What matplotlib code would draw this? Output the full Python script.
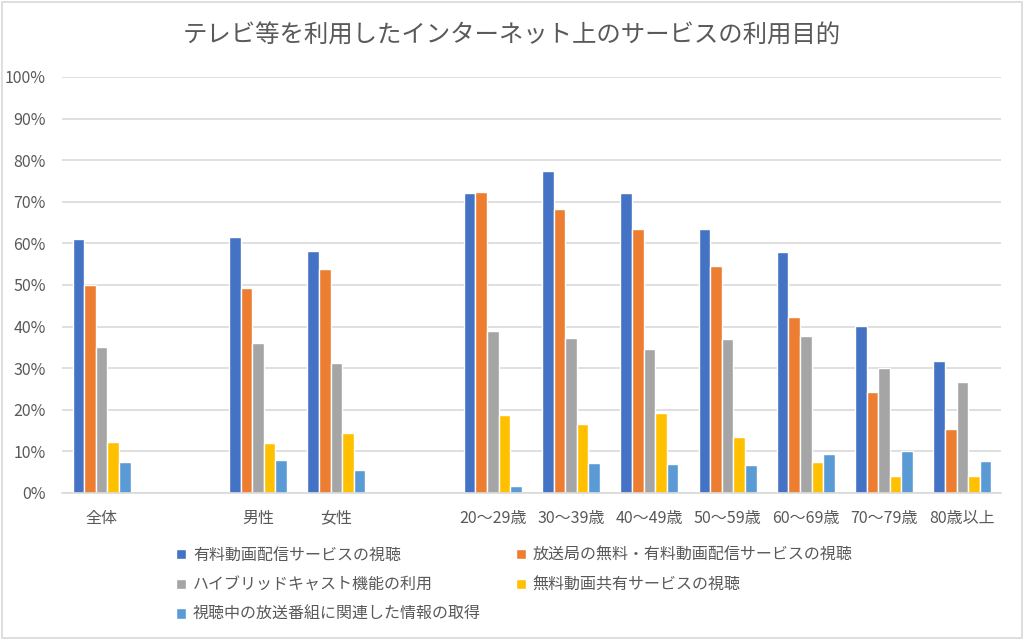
import numpy as np
import matplotlib
matplotlib.use("Agg")
import matplotlib.pyplot as plt
from matplotlib.patches import Rectangle

plt.rcParams['font.family'] = ['Noto Sans CJK JP', 'DejaVu Sans']

categories = ["全体", "", "男性", "女性", "", "20～29歳", "30～39歳", "40～49歳",
              "50～59歳", "60～69歳", "70～79歳", "80歳以上"]
series_names = ["有料動画配信サービスの視聴", "放送局の無料・有料動画配信サービスの視聴",
                "ハイブリッドキャスト機能の利用", "無料動画共有サービスの視聴",
                "視聴中の放送番組に関連した情報の取得"]
paid_vod = [61.0, None, 61.5, 58.2, None, 72.2, 77.3, 72.2, 63.4, 57.9, 40.1, 31.8]
broadcaster_vod = [50.0, None, 49.2, 53.8, None, 72.4, 68.3, 63.4, 54.6, 42.2, 24.3, 15.5]
hybridcast = [35.1, None, 36.0, 31.2, None, 38.9, 37.3, 34.5, 37.1, 37.7, 30.1, 26.7]
free_video = [12.3, None, 11.9, 14.4, None, 18.8, 16.7, 19.2, 13.5, 7.4, 4.1, 4.1]
related_info = [7.5, None, 8.0, 5.5, None, 1.8, 7.1, 7.0, 6.7, 9.4, 10.0, 7.8]
colors = ["#4472C4", "#ED7D31", "#A5A5A5", "#FFC000", "#5B9BD5"]

series = [paid_vod, broadcaster_vod, hybridcast, free_video, related_info]

fig = plt.figure(figsize=(10.24, 6.4), dpi=100)
fig.patches.append(Rectangle((0.002, 0.003), 0.996, 0.994, transform=fig.transFigure,
                             fill=False, edgecolor="#d9d9d9", linewidth=1.2))
ax = fig.add_axes([0.061, 0.2297, 0.917, 0.65])

x = np.arange(len(categories))
w = 0.148
handles = []
for i, (vals, c) in enumerate(zip(series, colors)):
    v = np.array([np.nan if a is None else a / 100 for a in vals])
    b = ax.bar(x + (i - 2) * w, v, w, color=c, edgecolor="white", linewidth=1.0,
               label=series_names[i])
    handles.append(b)

ax.set_xlim(-0.5, len(categories) - 0.5)
ax.set_ylim(0, 1.0)
ax.set_yticks(np.arange(0, 1.01, 0.1))
ax.set_yticklabels([f"{int(round(t*100))}%" for t in np.arange(0, 1.01, 0.1)])
ax.set_xticks(x)
ax.set_xticklabels(categories)
ax.tick_params(axis="both", length=0, colors="#595959", labelsize=11.5)
ax.tick_params(axis="x", pad=12)
ax.tick_params(axis="y", pad=12)
ax.yaxis.grid(True, color="#d9d9d9", linewidth=1.2)
ax.set_axisbelow(True)
for s in ["top", "right", "left"]:
    ax.spines[s].set_visible(False)
ax.spines["bottom"].set_color("#d9d9d9")
ax.spines["bottom"].set_linewidth(1.2)

fig.text(0.5, 0.945, "テレビ等を利用したインターネット上のサービスの利用目的",
         ha="center", va="center", fontsize=17.6, color="#595959")

order = [0, 2, 4, 1, 3]
leg = fig.legend([handles[k] for k in order], [series_names[k] for k in order],
                 ncol=2, loc="upper left", bbox_to_anchor=(0.172, 0.146),
                 frameon=False, fontsize=11.5, handlelength=0.6, handleheight=0.6,
                 handletextpad=0.45, columnspacing=2.2, labelspacing=0.8,
                 labelcolor="#595959", borderaxespad=0, borderpad=0)

fig.savefig("out.png", dpi=100)
